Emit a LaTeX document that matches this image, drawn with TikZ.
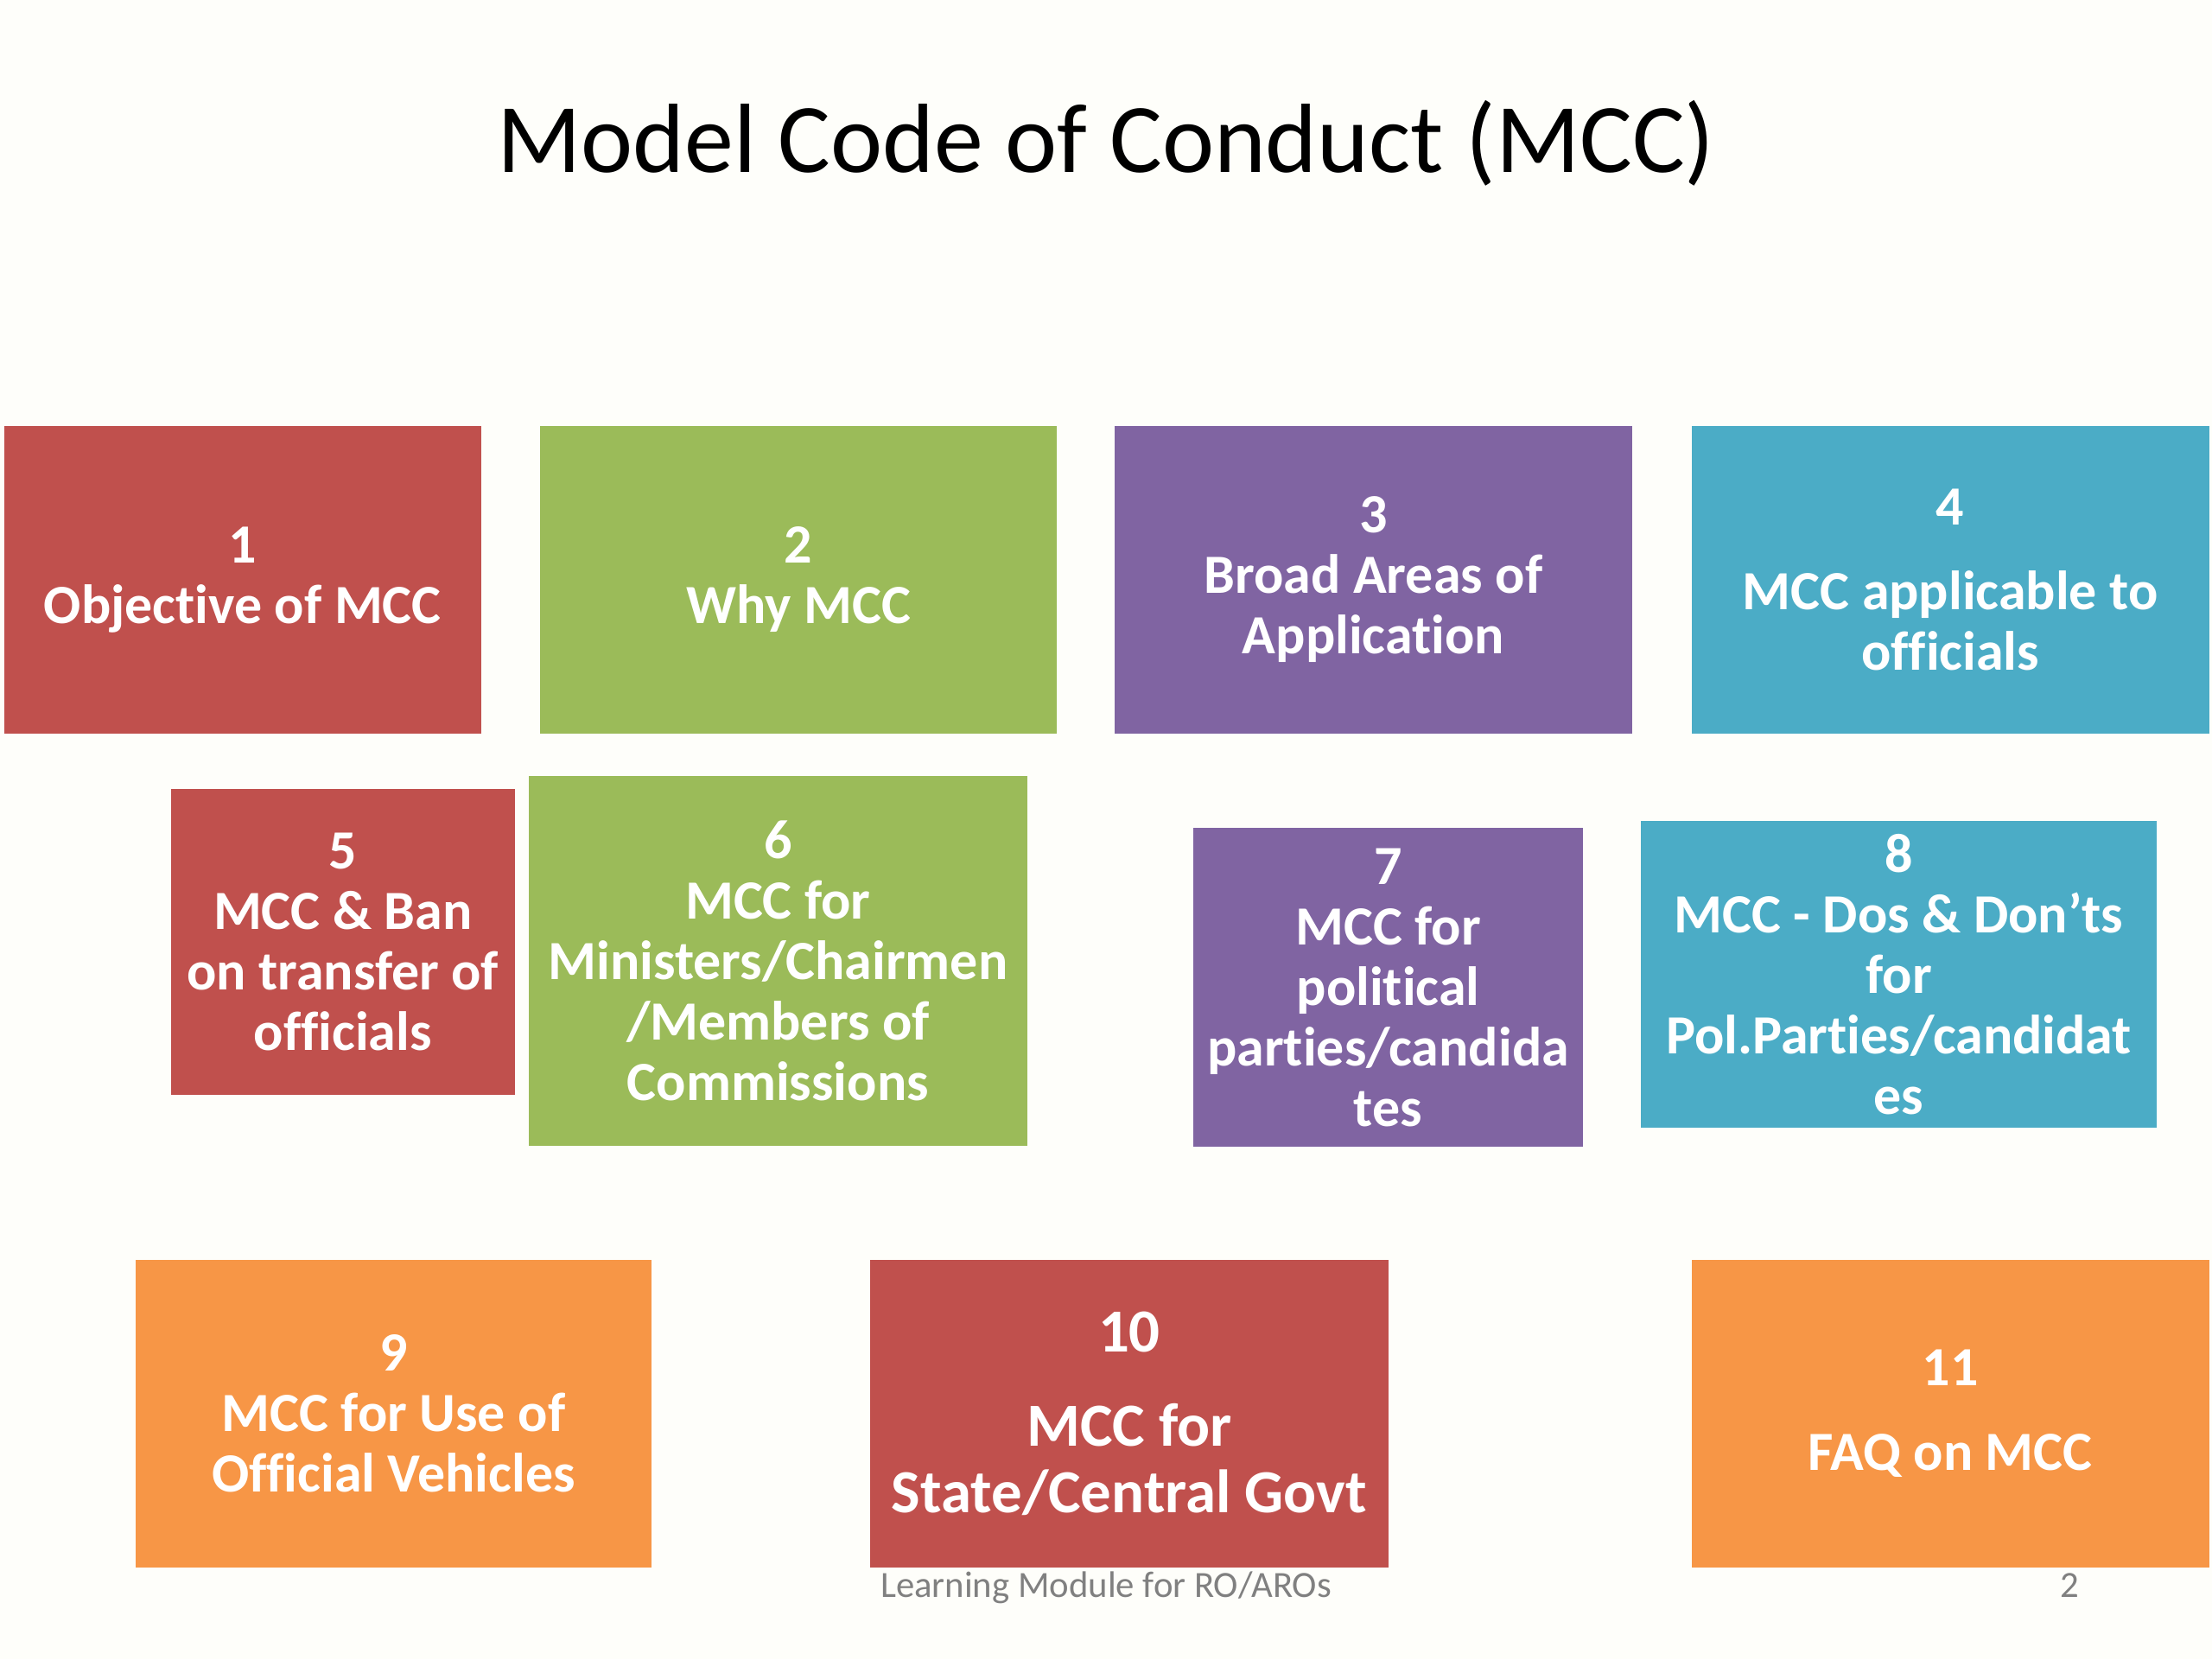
\documentclass[tikz,border=0pt]{standalone}
\usepackage{fontspec}
\setmainfont{Carlito}[Ligatures=NoCommon]
\definecolor{bgc}{HTML}{FEFEFA}
\definecolor{mred}{HTML}{C0504D}
\definecolor{mgreen}{HTML}{9BBB59}
\definecolor{mpurple}{HTML}{8064A2}
\definecolor{mblue}{HTML}{4BACC6}
\definecolor{morange}{HTML}{F79646}
\definecolor{footgray}{HTML}{808080}
\tikzset{
  box/.style={rectangle, inner sep=0pt, text=white, align=center,
    font=\fontsize{11.15}{12.2}\selectfont\bfseries},
  bigbox/.style={box, font=\fontsize{12.35}{13.4}\selectfont\bfseries},
  foot/.style={anchor=base, inner sep=0pt, text=footgray, font=\fontsize{7.45}{8}\selectfont}
}
\begin{document}
\begin{tikzpicture}[x=0.1mm,y=-0.1mm]
\fill[bgc] (0,0) rectangle (1568,1176);
\useasboundingbox (0,0) rectangle (1568,1176);
\node[anchor=base, inner sep=0pt, font=\fontsize{19.85}{24}\selectfont] (title) at (784,122) {Model Code of Conduct (MCC)};
\node[foot] (footer) at (784,1132) {Learning Module for RO/AROs};
\node[foot] (pagenum) at (1467,1132) {2};
\node[box, fill=mred, minimum width=33.8mm, minimum height=21.8mm] (b1) at (172,411) {1\\Objective of MCC};
\node[box, fill=mgreen, minimum width=36.6mm, minimum height=21.8mm] (b2) at (566,411) {2\\Why MCC};
\node[box, fill=mpurple, minimum width=36.7mm, minimum height=21.8mm] (b3) at (973.5,411) {3\\Broad Areas of\\Application};
\node[box, fill=mblue, minimum width=36.7mm, minimum height=21.8mm] (b4) at (1382.5,411) {4\\[4.8pt]MCC applicable to\\officials};
\node[box, fill=mred, minimum width=24.4mm, minimum height=21.7mm] (b5) at (243,667.5) {5\\MCC \& Ban\\on transfer of\\officials};
\node[box, fill=mgreen, minimum width=35.3mm, minimum height=26.2mm] (b6) at (551.5,681) {6\\MCC for\\Ministers/Chairmen\\/Members of\\Commissions};
\node[box, fill=mpurple, minimum width=27.6mm, minimum height=22.6mm] (b7) at (984,700) {7\\MCC for\\political\\parties/candida\\tes};
\node[box, fill=mblue, minimum width=36.6mm, minimum height=21.7mm] (b8) at (1346,690.5) {8\\MCC - Dos \& Don’ts\\for\\Pol.Parties/candidat\\es};
\node[box, fill=morange, minimum width=36.6mm, minimum height=21.8mm] (b9) at (279,1002) {9\\MCC for Use of\\Official Vehicles};
\node[bigbox, fill=mred, minimum width=36.7mm, minimum height=21.8mm] (b10) at (800.5,1002) {10\\[5.6pt]MCC for\\State/Central Govt};
\node[box, fill=morange, minimum width=36.7mm, minimum height=21.8mm] (b11) at (1382.5,1002) {11\\[4.8pt]FAQ on MCC};
\end{tikzpicture}
\end{document}
